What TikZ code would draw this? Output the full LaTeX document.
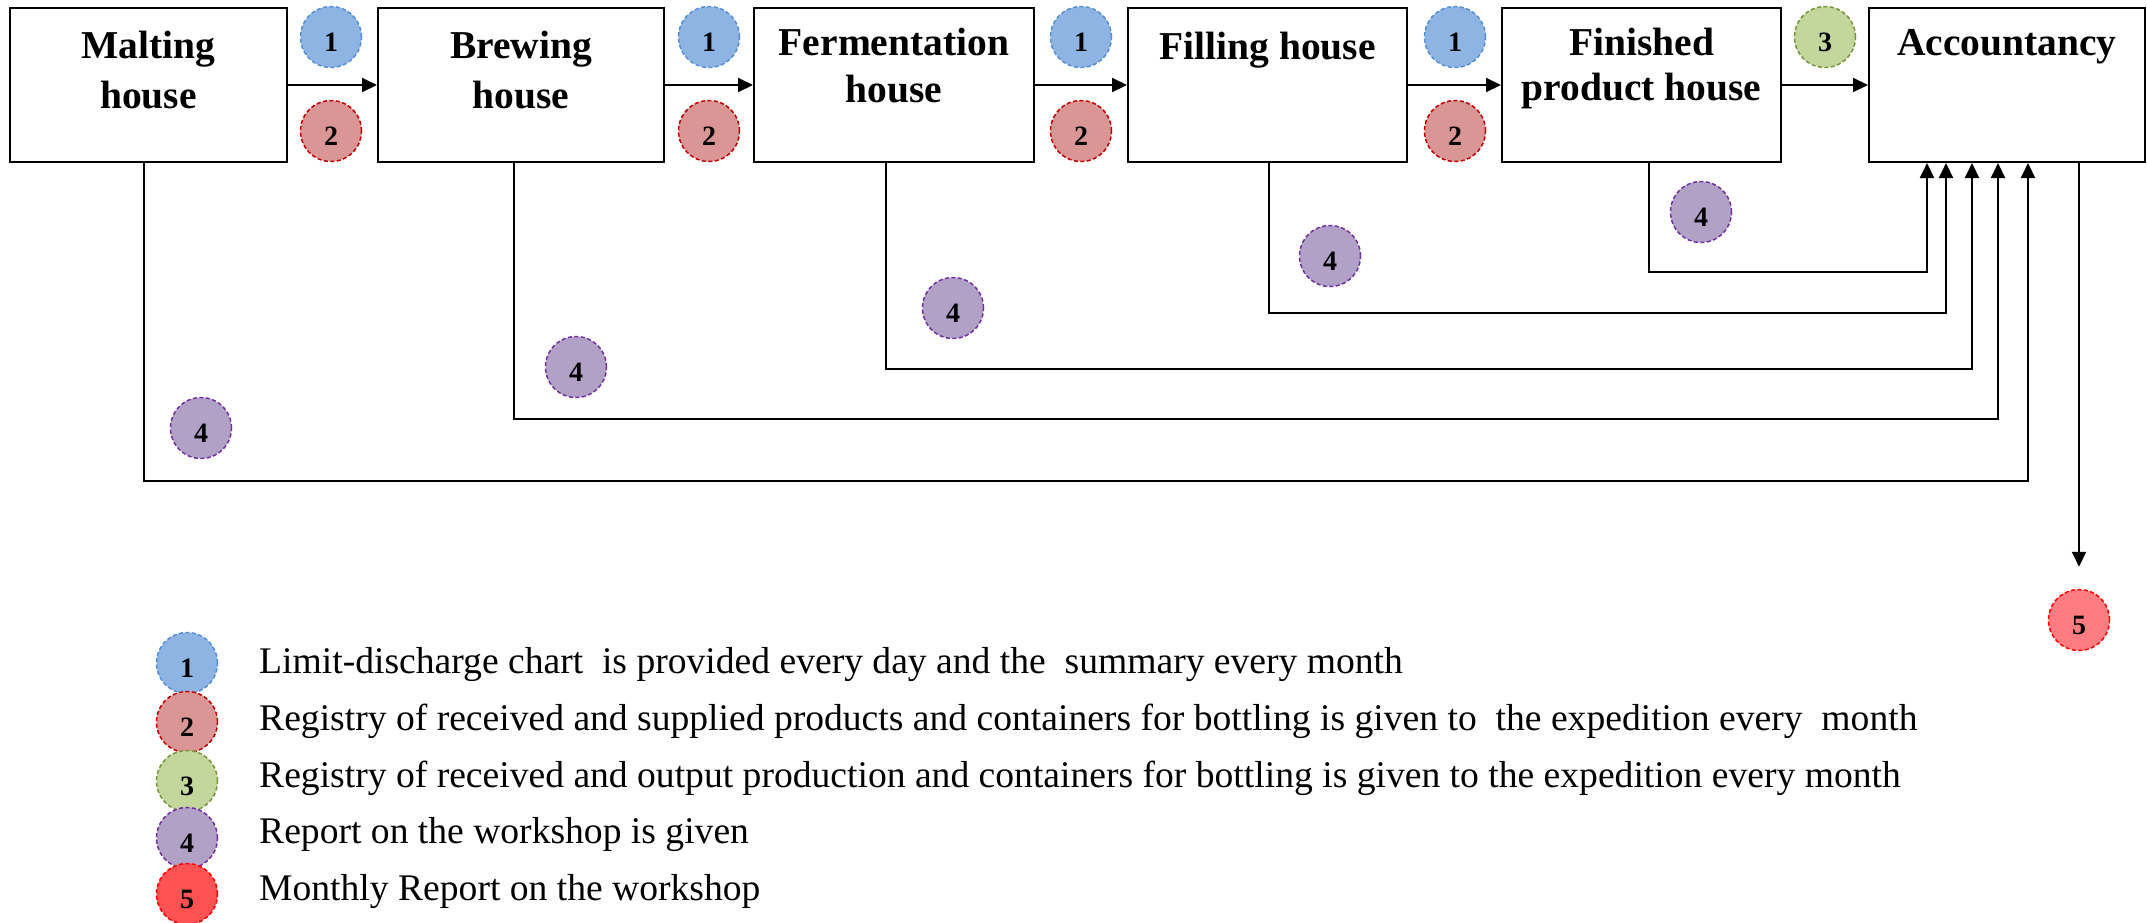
\documentclass[tikz,border=0pt]{standalone}
\usepackage{fontspec}
\setmainfont{Liberation Serif}
\usetikzlibrary{arrows.meta}
\definecolor{cAfill}{RGB}{141,180,226}
\definecolor{cAdraw}{RGB}{85,142,213}
\definecolor{cBfill}{RGB}{218,150,148}
\definecolor{cBdraw}{RGB}{192,0,0}
\definecolor{cCfill}{RGB}{195,214,155}
\definecolor{cCdraw}{RGB}{119,147,60}
\definecolor{cDfill}{RGB}{178,161,199}
\definecolor{cDdraw}{RGB}{112,48,160}
\definecolor{cEfill}{RGB}{255,124,128}
\definecolor{cEdark}{RGB}{255,82,82}
\definecolor{cEdraw}{RGB}{255,0,0}
\begin{document}
\begin{tikzpicture}[x=1pt,y=-1pt,
  box/.style={draw, line width=2pt, minimum width=#1, minimum height=154pt, inner sep=0pt},
  tit/.style={font=\fontsize{39.5}{47}\selectfont\bfseries, anchor=base, inner sep=0pt},
  badge/.style={circle, minimum size=61pt, inner sep=0pt, dash pattern=on 4pt off 2.5pt, line width=1.5pt,
    font=\fontsize{28}{30}\selectfont\bfseries, text height=28pt, text depth=0pt},
  bA/.style={badge, fill=cAfill, draw=cAdraw},
  bB/.style={badge, fill=cBfill, draw=cBdraw},
  bC/.style={badge, fill=cCfill, draw=cCdraw},
  bD/.style={badge, fill=cDfill, draw=cDdraw},
  bE/.style={badge, fill=cEfill, draw=cEdraw},
  bEd/.style={badge, fill=cEdark, draw=cEdraw},
  conn/.style={line width=2pt, -{Triangle[length=15pt,width=14pt]}},
  leg/.style={font=\fontsize{37.6}{44}\selectfont, anchor=base west, inner sep=0pt}
]
\useasboundingbox (0,0) rectangle (2147,922);

% boxes
\node[box=277pt] (M) at (148.5,85) {};
\node[box=286pt] (B) at (521,85) {};
\node[box=280pt] (F) at (894,85) {};
\node[box=279pt] (Fi) at (1267.5,85) {};
\node[box=279pt] (FP) at (1641.5,85) {};
\node[box=276pt] (A) at (2007,85) {};

% titles
\node[tit] (tM1) at (148.5,58) {Malting};
\node[tit] (tM2) at (148.5,108) {house};
\node[tit] (tB1) at (521,58) {Brewing};
\node[tit] (tB2) at (521,108) {house};
\node[tit] (tF1) at (894,55) {Fermentation};
\node[tit] (tF2) at (894,102) {house};
\node[tit] (tFi) at (1267.5,59) {Filling house};
\node[tit] (tFP1) at (1641.5,55) {Finished};
\node[tit] (tFP2) at (1641.5,100) {product house};
\node[tit] (tA) at (2007,55) {Accountancy};

% flow arrows
\draw[conn] (M.east) -- (B.west);
\draw[conn] (B.east) -- (F.west);
\draw[conn] (F.east) -- (Fi.west);
\draw[conn] (Fi.east) -- (FP.west);
\draw[conn] (FP.east) -- (A.west);

% top badges
\node[bA] (u1) at (331,37) {1};
\node[bB] (d1) at (331,131) {2};
\node[bA] (u2) at (709,37) {1};
\node[bB] (d2) at (709,131) {2};
\node[bA] (u3) at (1081,37) {1};
\node[bB] (d3) at (1081,131) {2};
\node[bA] (u4) at (1455,37) {1};
\node[bB] (d4) at (1455,131) {2};
\node[bC] (u5) at (1825,37) {3};

% report connectors
\coordinate (sM) at ([xshift=-4.5pt]M.south);
\coordinate (sB) at ([xshift=-7pt]B.south);
\coordinate (sF) at ([xshift=-8pt]F.south);
\coordinate (sFi) at ([xshift=1.5pt]Fi.south);
\coordinate (sFP) at ([xshift=7.5pt]FP.south);
\coordinate (aFP) at ([xshift=-80pt]A.south);
\coordinate (aFi) at ([xshift=-61pt]A.south);
\coordinate (aF) at ([xshift=-35pt]A.south);
\coordinate (aB) at ([xshift=-9pt]A.south);
\coordinate (aM) at ([xshift=21pt]A.south);
\coordinate (yFP) at (0,272);
\coordinate (yFi) at (0,313);
\coordinate (yF) at (0,369);
\coordinate (yB) at (0,419);
\coordinate (yM) at (0,481);
\draw[conn] (sFP) -- (sFP |- yFP) -- (aFP |- yFP) -- (aFP);
\draw[conn] (sFi) -- (sFi |- yFi) -- (aFi |- yFi) -- (aFi);
\draw[conn] (sF) -- (sF |- yF) -- (aF |- yF) -- (aF);
\draw[conn] (sB) -- (sB |- yB) -- (aB |- yB) -- (aB);
\draw[conn] (sM) -- (sM |- yM) -- (aM |- yM) -- (aM);

\node[bD] (r1) at (1701,212) {4};
\node[bD] (r2) at (1330,256) {4};
\node[bD] (r3) at (953,308) {4};
\node[bD] (r4) at (576,367) {4};
\node[bD] (r5) at (201,428) {4};

% monthly report
\node[bE] (c5) at (2079,620) {5};
\coordinate (dA) at ([xshift=72pt]A.south);
\draw[conn] (dA) -- ([yshift=22pt]c5.north);

% legend
\node[bA] (l1) at (187,663) {1};
\node[bB] (l2) at (187,722) {2};
\node[bC] (l3) at (187,781) {3};
\node[bD] (l4) at (187,838) {4};
\node[bEd] (l5) at (187,894) {5};
\node[leg] (g1) at (259,673) {Limit-discharge chart~ is provided every day and the~ summary every month};
\node[leg] (g2) at (259,730) {Registry of received and supplied products and containers for bottling is given to~ the expedition every~ month};
\node[leg] (g3) at (259,787) {Registry of received and output production and containers for bottling is given to the expedition every month};
\node[leg] (g4) at (259,843) {Report on the workshop is given};
\node[leg] (g5) at (259,900) {Monthly Report on the workshop};
\end{tikzpicture}
\end{document}
